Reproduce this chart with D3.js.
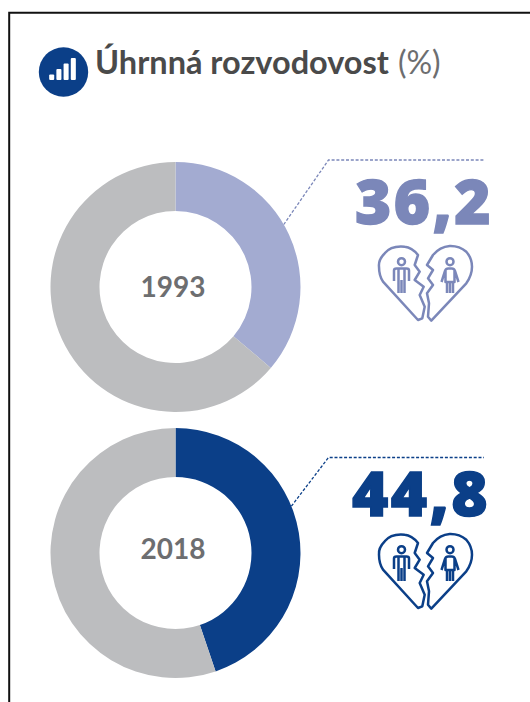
<!DOCTYPE html>
<html lang="cs">
<head>
<meta charset="UTF-8">
<title>Úhrnná rozvodovost</title>
<script src="https://cdnjs.cloudflare.com/ajax/libs/d3/7.8.5/d3.min.js"></script>
<style>
    html, body { margin: 0; padding: 0; background: white; }
    svg { display: block; }
</style>
</head>
<body>
<div id="chart"></div>
<script>
    // Data
    const years = ["1993", "2018"];
    const rates = [36.2, 44.8];
    const rateLabels = ["36,2", "44,8"];
    const titleBold = "Úhrnná rozvodovost";
    const titleUnit = "(%)";
    const iconBars = [1, 2, 3, 4];

    const width = 530, height = 702;
    const colors = ["#a3abd1", "#0b3f88"];
    const textColors = ["#7b87b9", "#0b3f88"];
    const grey = "#bcbdbf";

    // Layout of the two blocks is not the same in the original
    const layout = [
        { cy: 287, leaderDeg: 60, kneeY: 160, numX: 355, numY: 224, heartY: 245, yearY: 297 },
        { cy: 553, leaderDeg: 68, kneeY: 457.5, numX: 352, numY: 516, heartY: 533, yearY: 559 }
    ];

    const svg = d3.select("#chart").append("svg")
        .attr("width", width)
        .attr("height", height);

    // Frame, open on the right and at the bottom
    svg.append("path")
        .attr("d", "M9.2,702V12.8H530")
        .attr("fill", "none")
        .attr("stroke", "#111")
        .attr("stroke-width", 2);

    // Title icon
    const icon = svg.append("g").attr("transform", "translate(63.5,72)");
    icon.append("circle").attr("r", 24.7).attr("fill", "#0b3f88");
    const iconX = d3.scaleBand().domain(iconBars).range([-16.5, 14.5]).padding(0.3);
    const iconY = d3.scaleLinear().domain([0, 4]).range([8, -14]);
    icon.selectAll("rect").data(iconBars).enter().append("rect")
        .attr("x", d => iconX(d))
        .attr("y", d => iconY(d))
        .attr("width", iconX.bandwidth())
        .attr("height", d => iconY(0) - iconY(d))
        .attr("rx", 1)
        .attr("fill", "white");

    // Title
    const title = svg.append("text")
        .attr("x", 95)
        .attr("y", 74)
        .attr("font-family", "Lato, sans-serif")
        .attr("font-size", 32.5)
        .attr("fill", "#4a4a4a");
    title.append("tspan").attr("font-weight", 700).text(titleBold);
    title.append("tspan").attr("dx", 9).attr("font-size", 32).attr("fill", "#6d6e70").text(titleUnit);

    // Donuts
    const centerX = 175.5;
    const outer = 125, inner = 76;
    const pie = d3.pie().sort(null);
    const arc = d3.arc().innerRadius(inner).outerRadius(outer);

    const heartLeft = "M40,75 L44.3,73.3 L46.7,61.7 L41.7,50 L45.7,41.7 L36.7,35 L41.7,26.7 L36.7,20 L40,10 C36,5 32,2 26.7,1.7 C18,0.8 11,3 6.7,8.3 C2,13 0.5,17 1,21.7 C1,28 2,32 5,36.7 Z";
    const heartRight = "M53.3,75.7 L50,71.7 L51,58.3 L49,48.3 L55,40 L50,33.3 L55,25 L49,20 L55,10 C60,4 65,1.5 71.7,1 C78,0.8 84,3 88.3,6.7 C92,11 94,16 94,21.7 C94,29 92,33 88.3,38.3 Z";
    const man = "M16,36 V25.5 Q16,23.5 18.5,23.5 H28.5 Q31,23.5 31,25.5 V36 M20.5,24 V36 M26.5,24 V36 M20.5,35 V48 M23.5,35 V48 M26.5,35 V48";
    const woman = "M63.5,37 L67,26 Q68,23.5 70,23.5 H74 Q76,23.5 77,26 L80.5,37 M67.5,26 V37 H76.5 V26 M69,37 V48 M72,37 V48 M75,37 V48";

    years.forEach((year, i) => {
        const l = layout[i];
        const g = svg.append("g").attr("transform", `translate(${centerX},${l.cy})`);

        g.selectAll("path")
            .data(pie([rates[i], 100 - rates[i]]))
            .enter()
            .append("path")
            .attr("d", arc)
            .attr("fill", (d, j) => j === 0 ? colors[i] : grey);

        svg.append("text")
            .attr("x", 173)
            .attr("y", l.yearY)
            .attr("text-anchor", "middle")
            .attr("font-family", "Lato, sans-serif")
            .attr("font-weight", 700)
            .attr("font-size", 28)
            .attr("fill", "#6d6e70")
            .text(year);

        // Leader line from the outer edge of the slice
        const a = l.leaderDeg * Math.PI / 180;
        const x0 = centerX + outer * Math.sin(a), y0 = l.cy - outer * Math.cos(a);
        svg.append("path")
            .attr("d", `M${x0},${y0}L328.5,${l.kneeY}H484`)
            .attr("fill", "none")
            .attr("stroke", textColors[i])
            .attr("stroke-width", 1.3)
            .attr("stroke-dasharray", "3 1.8");

        // Value, stroked a little because the original face is heavier
        svg.append("text")
            .attr("x", l.numX)
            .attr("y", l.numY)
            .attr("font-family", "'Open Sans', sans-serif")
            .attr("font-weight", 800)
            .attr("font-size", 62)
            .attr("letter-spacing", 2.5)
            .attr("fill", textColors[i])
            .attr("stroke", textColors[i])
            .attr("stroke-width", 1.4)
            .text(rateLabels[i]);

        // Broken heart icon
        const h = svg.append("g")
            .attr("transform", `translate(378,${l.heartY})`)
            .attr("fill", "none")
            .attr("stroke", textColors[i])
            .attr("stroke-width", 2.5)
            .attr("stroke-linejoin", "round");
        [heartLeft, heartRight, man, woman].forEach(p => h.append("path").attr("d", p));
        h.append("circle").attr("cx", 23.5).attr("cy", 16.7).attr("r", 3.5);
        h.append("circle").attr("cx", 72).attr("cy", 16.7).attr("r", 3.5);
    });
</script>
</body>
</html>
